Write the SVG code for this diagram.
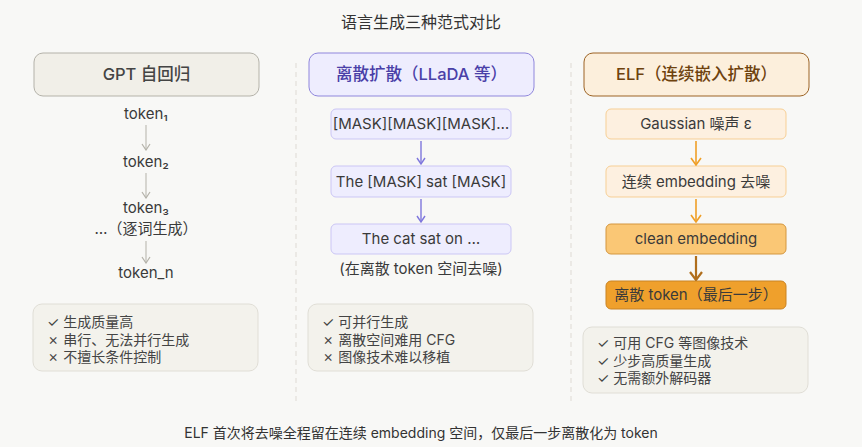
<svg xmlns="http://www.w3.org/2000/svg" width="862" height="447" viewBox="0 0 862 447">
<defs>
<style>
text{font-family:Inter,"Noto Sans","Noto Sans CJK SC",sans-serif;}
.t{font-size:16px;fill:#333;text-anchor:middle;}
.h{font-size:16.5px;font-weight:500;text-anchor:middle;}
.n{font-size:15px;fill:#3a3a3a;text-anchor:middle;}
.b{font-size:14px;fill:#444;}
.sep{stroke:#e6e4df;stroke-width:1.5;stroke-dasharray:5 4;fill:none;}
.con{fill:none;}
</style>
<marker id="mg" viewBox="0 0 10 10" refX="9" refY="5" markerWidth="10" markerHeight="10" markerUnits="userSpaceOnUse" orient="auto"><path d="M3,1 L9,5 L3,9" fill="none" stroke="#b4b2a9" stroke-width="1.2"/></marker>
<marker id="mp" viewBox="0 0 10 10" refX="9" refY="5" markerWidth="10" markerHeight="10" markerUnits="userSpaceOnUse" orient="auto"><path d="M3,1 L9,5 L3,9" fill="none" stroke="#7f77dd" stroke-width="1.4"/></marker>
<marker id="mo" viewBox="0 0 12 12" refX="11" refY="6" markerWidth="12" markerHeight="12" markerUnits="userSpaceOnUse" orient="auto"><path d="M4,1 L11,6 L4,11" fill="none" stroke="#ef9f27" stroke-width="1.6"/></marker>
<marker id="mb" viewBox="0 0 14 14" refX="13" refY="7" markerWidth="14" markerHeight="14" markerUnits="userSpaceOnUse" orient="auto"><path d="M5,1 L13,7 L5,13" fill="none" stroke="#b06e1c" stroke-width="2.2"/></marker>
</defs>
<rect width="862" height="447" fill="#f8f8f6"/>
<text class="t" x="421" y="28">语言生成三种范式对比</text>
<g id="separators">
<line class="sep" x1="296" y1="63" x2="296" y2="402"/>
<line class="sep" x1="571" y1="63" x2="571" y2="402"/>
</g>
<g id="h-gpt"><rect x="34" y="53" width="225" height="43" rx="9" fill="#f1efe8" stroke="#b4b2a9"/><text class="h" x="146.5" y="80" fill="#444">GPT 自回归</text></g>
<g id="h-llada"><rect x="309" y="53" width="225" height="43" rx="9" fill="#eeedfe" stroke="#8f86dc"/><text class="h" x="421.5" y="80" fill="#4a40a8">离散扩散（LLaDA 等）</text></g>
<g id="h-elf"><rect x="584" y="53" width="225" height="43" rx="9" fill="#fcefdc" stroke="#9c6324"/><text class="h" x="696.5" y="80" fill="#6e420e">ELF（连续嵌入扩散）</text></g>

<g id="g-t1"><text class="n" x="146" y="119">token₁</text></g>
<g id="g-t2"><text class="n" x="146" y="167">token₂</text></g>
<g id="g-t3"><text class="n" x="146" y="213">token₃</text><text class="n" x="146" y="234">…（逐词生成）</text></g>
<g id="g-tn"><text class="n" x="146" y="278">token_n</text></g>

<g id="d-1"><rect x="331" y="109" width="180" height="30" rx="5" fill="#eeedfe" stroke="#cbc6f5"/><text class="n" x="421" y="129">[MASK][MASK][MASK]…</text></g>
<g id="d-2"><rect x="331" y="166" width="180" height="31" rx="5" fill="#eeedfe" stroke="#cbc6f5"/><text class="n" x="421" y="187">The [MASK] sat [MASK]</text></g>
<g id="d-3"><rect x="331" y="224" width="180" height="30" rx="5" fill="#eeedfe" stroke="#cbc6f5"/><text class="n" x="421" y="244">The cat sat on …</text></g>
<text class="n" x="421" y="274" fill="#555">(在离散 token 空间去噪)</text>

<g id="e-1"><rect x="606" y="109" width="180" height="30" rx="5" fill="#fdf0e0" stroke="#f7cf95"/><text class="n" x="696" y="129">Gaussian 噪声 ε</text></g>
<g id="e-2"><rect x="606" y="166" width="180" height="31" rx="5" fill="#fdf0e0" stroke="#f7cf95"/><text class="n" x="696" y="187">连续 embedding 去噪</text></g>
<g id="e-3"><rect x="606" y="224" width="180" height="30" rx="5" fill="#fac775" stroke="#d4963e"/><text class="n" x="696" y="244">clean embedding</text></g>
<g id="e-4"><rect x="606" y="281" width="180" height="28" rx="5" fill="#efa02c" stroke="#c98323"/><text class="n" x="696" y="300" fill="#4a3010">离散 token（最后一步）</text></g>

<g id="connectors">
<line class="con" x1="146" y1="125" x2="146" y2="150" stroke="#b4b2a9" stroke-width="1" marker-end="url(#mg)"/>
<line class="con" x1="146" y1="173" x2="146" y2="198" stroke="#b4b2a9" stroke-width="1" marker-end="url(#mg)"/>
<line class="con" x1="146" y1="241" x2="146" y2="263" stroke="#b4b2a9" stroke-width="1" marker-end="url(#mg)"/>
<line class="con" x1="421" y1="141" x2="421" y2="164" stroke="#7f77dd" stroke-width="1.4" marker-end="url(#mp)"/>
<line class="con" x1="421" y1="199" x2="421" y2="222" stroke="#7f77dd" stroke-width="1.4" marker-end="url(#mp)"/>
<line class="con" x1="696" y1="141" x2="696" y2="165" stroke="#ef9f27" stroke-width="1.6" marker-end="url(#mo)"/>
<line class="con" x1="696" y1="199" x2="696" y2="222" stroke="#ef9f27" stroke-width="1.6" marker-end="url(#mo)"/>
<line class="con" x1="696" y1="256" x2="696" y2="280" stroke="#b06e1c" stroke-width="2.2" marker-end="url(#mb)"/>
</g>

<g id="p-gpt"><rect x="33" y="304" width="225" height="67" rx="9" fill="#f3f2ec" stroke="#e0ded6"/>
<text class="b" x="47" y="327">✓ 生成质量高</text><text class="b" x="47" y="345">✗ 串行、无法并行生成</text><text class="b" x="47" y="362">✗ 不擅长条件控制</text></g>
<g id="p-llada"><rect x="308" y="304" width="225" height="67" rx="9" fill="#f3f2ec" stroke="#e0ded6"/>
<text class="b" x="322" y="327">✓ 可并行生成</text><text class="b" x="322" y="345">✗ 离散空间难用 CFG</text><text class="b" x="322" y="362">✗ 图像技术难以移植</text></g>
<g id="p-elf"><rect x="583" y="327" width="225" height="66" rx="9" fill="#f3f2ec" stroke="#e0ded6"/>
<text class="b" x="597" y="348">✓ 可用 CFG 等图像技术</text><text class="b" x="597" y="366">✓ 少步高质量生成</text><text class="b" x="597" y="383">✓ 无需额外解码器</text></g>

<text x="421" y="438" font-size="14" fill="#333" text-anchor="middle">ELF 首次将去噪全程留在连续 embedding 空间，仅最后一步离散化为 token</text>
</svg>
